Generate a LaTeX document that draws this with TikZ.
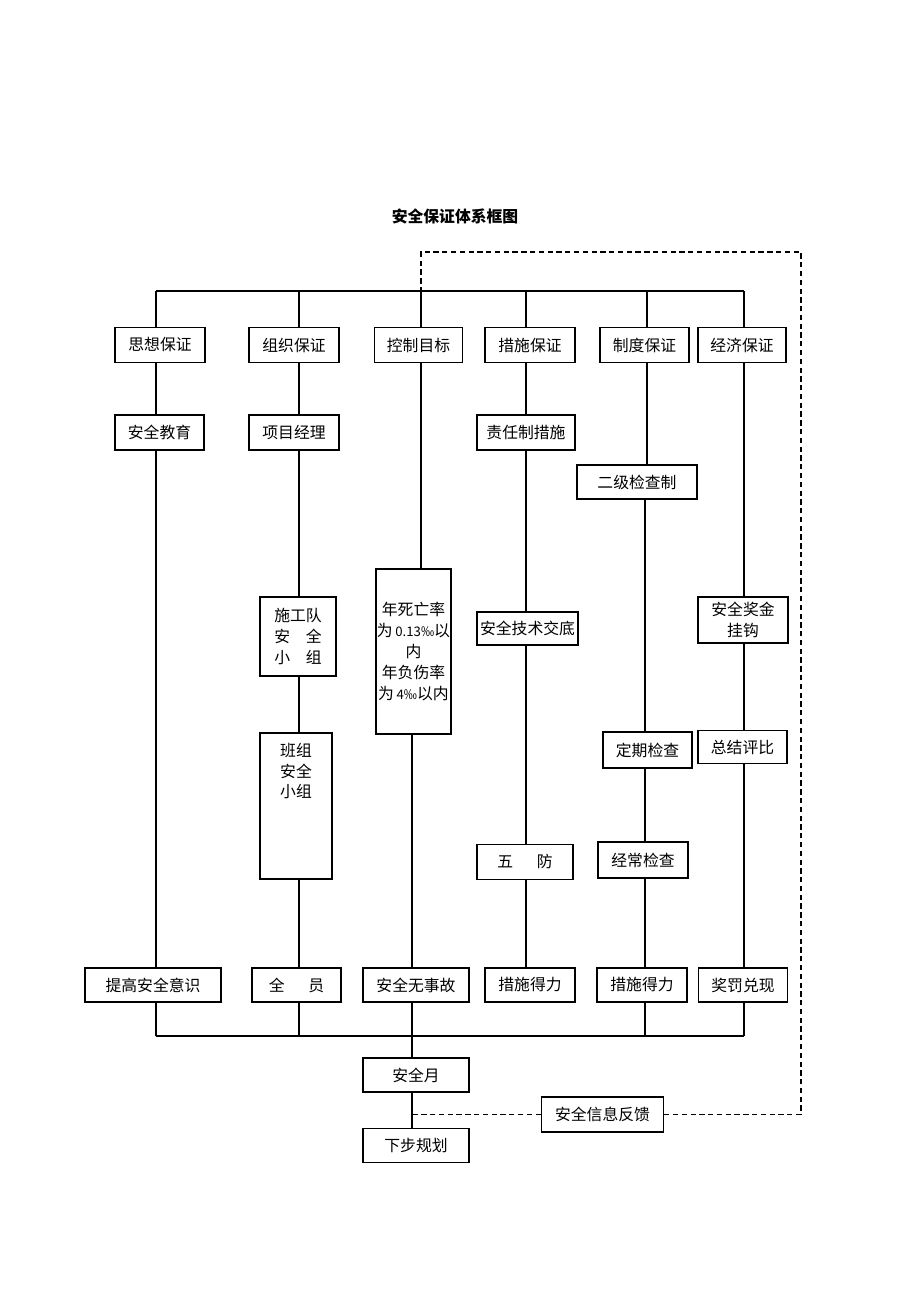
\documentclass[tikz,border=0pt]{standalone}
\usepackage{fontspec}
\setmainfont{Noto Sans CJK SC}
\tikzset{
  box/.style={draw, line width=0.8pt, inner sep=0pt, align=center, minimum height=0.7cm, font=\fontsize{9pt}{12pt}\selectfont},
  link/.style={line width=0.7pt},
  feedback/.style={line width=0.7pt, dash pattern=on 3pt off 2pt}
}
\newcommand{\smallnum}[1]{{\fontsize{7.5pt}{12pt}\selectfont #1}}
\begin{document}
\begin{tikzpicture}[x=0.02cm, y=-0.02cm]
        \useasboundingbox (0,0) rectangle (920,1302);
        \node[font=\bfseries\fontsize{9pt}{12pt}\selectfont] (T) at (455,216) {安全保证体系框图};

        % first row
        \node[box, minimum width=1.8cm] (A) at (160,345) {思想保证};
        \node[box, minimum width=1.8cm] (B) at (294,345) {组织保证};
        \node[box, minimum width=1.76cm] (C) at (418.5,345) {控制目标};
        \node[box, minimum width=1.8cm] (D) at (530,345) {措施保证};
        \node[box, minimum width=1.78cm] (E) at (644.5,345) {制度保证};
        \node[box, minimum width=1.76cm] (F) at (742,345) {经济保证};

        \node[box, minimum width=1.78cm] (A2) at (159.5,432.5) {安全教育};
        \node[box, minimum width=1.8cm] (B2) at (294,432.5) {项目经理};
        \node[box, minimum width=1.96cm] (D2) at (526,432.5) {责任制措施};
        \node[box, minimum width=2.4cm, minimum height=0.68cm] (E2) at (637,482) {二级检查制};

        \node[box, minimum width=1.52cm, minimum height=1.58cm] (B3) at (298,636.5) {施工队\\安　全\\小　组};
        \node[box, minimum width=1.5cm, minimum height=3.3cm] (C3) at (413.5,651.5) {年死亡率\\为\,\smallnum{0.13‰}以\\内\\年负伤率\\为\,\smallnum{4‰}以内};
        \node[box, minimum width=2.02cm, minimum height=0.66cm] (D3) at (527.5,628.5) {安全技术交底};
        \node[box, minimum width=1.8cm, minimum height=0.92cm] (F3) at (743,620) {安全奖金\\挂钩};

        \node[box, minimum width=1.44cm, minimum height=2.92cm,
          label={[anchor=north, yshift=-0.1cm, align=center, font=\fontsize{9pt}{11.5pt}\selectfont]north:班组\\安全\\小组}] (B4) at (296,806) {};
        \node[box, minimum width=1.78cm, minimum height=0.72cm] (E3) at (647.5,750) {定期检查};
        \node[box, minimum width=1.78cm, minimum height=0.66cm] (F4) at (742.5,747) {总结评比};
        \node[box, minimum width=1.92cm] (D4) at (525,862) {五\hspace{1.5em}防};
        \node[box, minimum width=1.8cm, minimum height=0.72cm] (E4) at (643,860) {经常检查};

        % last row
        \node[box, minimum width=2.72cm, minimum height=0.68cm] (A5) at (153,985) {提高安全意识};
        \node[box, minimum width=1.78cm, minimum height=0.68cm] (B5) at (296.5,985) {全\hspace{1.5em}员};
        \node[box, minimum width=2.12cm, minimum height=0.68cm] (C5) at (416,985) {安全无事故};
        \node[box, minimum width=1.8cm, minimum height=0.68cm] (D5) at (530,985) {措施得力};
        \node[box, minimum width=1.8cm, minimum height=0.68cm] (E5) at (642,985) {措施得力};
        \node[box, minimum width=1.78cm, minimum height=0.68cm] (F5) at (743,985) {奖罚兑现};

        \node[box, minimum width=2.12cm, minimum height=0.68cm] (G) at (416,1075) {安全月};
        \node[box, minimum width=2.12cm, minimum height=0.68cm] (H) at (416,1145.5) {下步规划};
        \node[box, minimum width=2.44cm] (I) at (602.5,1114.5) {安全信息反馈};

        \coordinate (c1) at (156,291);
        \coordinate (c2) at (299,291);
        \coordinate (c3) at (421,291);
        \coordinate (c4) at (526,291);
        \coordinate (c5) at (647,291);
        \coordinate (c6) at (744,291);
        \coordinate (d1) at (156,1036);
        \coordinate (d2) at (299,1036);
        \coordinate (d3) at (412,1036);
        \coordinate (d5) at (645,1036);
        \coordinate (d6) at (744,1036);
        \coordinate (k1) at (421,252);
        \coordinate (k2) at (801,252);
        \coordinate (k3) at (801,1114.5);

        \draw[link] (c1) -- (c6);
        \draw[link] (d1) -- (d6);

        \draw[link] (c1) -- (c1 |- A.north);
        \draw[link] (A.south -| c1) -- (c1 |- A2.north);
        \draw[link] (A2.south -| c1) -- (c1 |- A5.north);
        \draw[link] (A5.south -| c1) -- (d1);

        \draw[link] (c2) -- (c2 |- B.north);
        \draw[link] (B.south -| c2) -- (c2 |- B2.north);
        \draw[link] (B2.south -| c2) -- (c2 |- B3.north);
        \draw[link] (B3.south -| c2) -- (c2 |- B4.north);
        \draw[link] (B4.south -| c2) -- (c2 |- B5.north);
        \draw[link] (B5.south -| c2) -- (d2);

        \draw[link] (c3) -- (c3 |- C.north);
        \draw[link] (C.south -| c3) -- (c3 |- C3.north);
        \draw[link] (C3.south -| d3) -- (d3 |- C5.north);
        \draw[link] (C5.south -| d3) -- (d3);
        \draw[link] (d3) -- (d3 |- G.north);
        \draw[link] (G.south -| d3) -- (d3 |- H.north);

        \draw[link] (c4) -- (c4 |- D.north);
        \draw[link] (D.south -| c4) -- (c4 |- D2.north);
        \draw[link] (D2.south -| c4) -- (c4 |- D3.north);
        \draw[link] (D3.south -| c4) -- (c4 |- D4.north);
        \draw[link] (D4.south -| c4) -- (c4 |- D5.north);

        \draw[link] (c5) -- (c5 |- E.north);
        \draw[link] (E.south -| c5) -- (c5 |- E2.north);
        \draw[link] (E2.south -| d5) -- (d5 |- E3.north);
        \draw[link] (E3.south -| d5) -- (d5 |- E4.north);
        \draw[link] (E4.south -| d5) -- (d5 |- E5.north);
        \draw[link] (E5.south -| d5) -- (d5);

        \draw[link] (c6) -- (c6 |- F.north);
        \draw[link] (F.south -| c6) -- (c6 |- F3.north);
        \draw[link] (F3.south -| c6) -- (c6 |- F4.north);
        \draw[link] (F4.south -| c6) -- (c6 |- F5.north);
        \draw[link] (F5.south -| c6) -- (d6);

        % feedback
        \draw[feedback] (I.east) -- (k3) -- (k2) -- (k1) -- (c3);
        \draw[feedback] (I.west) -- (I.west -| d3);
      \end{tikzpicture}
\end{document}
